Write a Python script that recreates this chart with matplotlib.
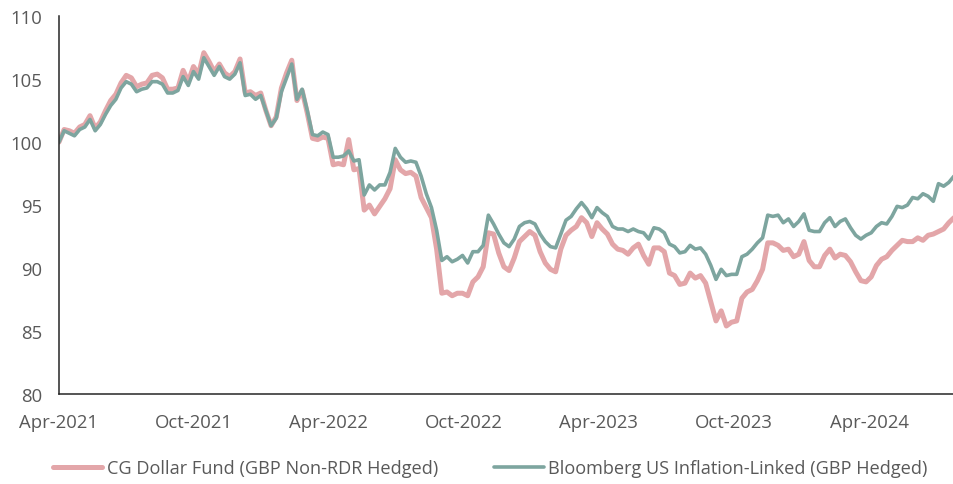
import matplotlib
matplotlib.use("Agg")
import matplotlib.pyplot as plt
import matplotlib.dates as mdates
import pandas as pd

# weekly values, rebased to 100 at 1 Apr 2021
start_date = "2021-04-01"

bench = [100.0, 100.9, 100.7, 100.5, 101.0, 101.2, 101.8, 100.9, 101.4, 102.2,
         102.9, 103.4, 104.3, 104.8, 104.6, 104.0, 104.2, 104.3, 104.8, 104.8,
         104.6, 103.9, 103.9, 104.1, 105.2, 104.5, 105.6, 105.0, 106.7, 106.0,
         105.3, 106.0, 105.2, 105.0, 105.4, 106.3, 103.7, 103.8, 103.4, 103.7,
         102.5, 101.3, 101.9, 104.0, 105.1, 106.2, 103.4, 104.2, 102.5, 100.6,
         100.5, 100.8, 100.6, 98.8, 98.8, 98.9, 99.3, 98.5, 98.6, 95.8,
         96.6, 96.2, 96.6, 96.6, 97.6, 99.5, 98.8, 98.4, 98.5, 98.4,
         97.3, 95.9, 94.8, 93.0, 90.6, 90.9, 90.5, 90.7, 91.0, 90.4,
         91.3, 91.3, 91.8, 94.2, 93.5, 92.7, 92.0, 91.7, 92.3, 93.3,
         93.6, 93.7, 93.5, 92.7, 92.1, 91.7, 91.6, 92.7, 93.8, 94.1,
         94.7, 95.2, 94.7, 94.0, 94.8, 94.4, 94.1, 93.3, 93.1, 93.1,
         92.9, 93.1, 92.9, 92.8, 92.3, 93.2, 93.1, 92.8, 91.9, 91.7,
         91.2, 91.3, 91.8, 91.5, 91.6, 91.1, 90.2, 89.1, 89.9, 89.4,
         89.5, 89.5, 90.9, 91.1, 91.5, 92.0, 92.4, 94.2, 94.1, 94.2,
         93.6, 93.9, 93.3, 93.7, 94.3, 93.0, 92.9, 92.9, 93.6, 94.0,
         93.3, 93.7, 93.9, 93.2, 92.6, 92.3, 92.6, 92.8, 93.3, 93.6,
         93.5, 94.1, 94.9, 94.8, 95.0, 95.6, 95.5, 95.9, 95.7, 95.3,
         96.7, 96.5, 96.8, 97.3]

fund = [100.0, 101.0, 100.9, 100.7, 101.2, 101.4, 102.1, 101.1, 101.6, 102.5,
        103.3, 103.8, 104.7, 105.3, 105.1, 104.4, 104.6, 104.7, 105.3, 105.4,
        105.1, 104.2, 104.2, 104.3, 105.7, 104.8, 106.0, 105.4, 107.1, 106.4,
        105.6, 106.2, 105.5, 105.2, 105.6, 106.6, 103.9, 104.0, 103.7, 103.9,
        102.5, 101.3, 102.0, 104.3, 105.5, 106.5, 103.3, 104.1, 102.3, 100.3,
        100.2, 100.4, 100.3, 98.2, 98.3, 98.2, 100.2, 97.8, 97.9, 94.6,
        95.0, 94.3, 94.9, 95.5, 96.3, 98.6, 97.8, 97.5, 97.6, 97.3,
        95.6, 94.8, 94.0, 91.5, 88.0, 88.1, 87.8, 88.0, 88.0, 87.8,
        88.9, 89.3, 90.1, 92.8, 92.7, 91.2, 90.1, 89.8, 90.8, 92.1,
        92.5, 92.9, 92.6, 91.3, 90.4, 89.9, 89.7, 91.5, 92.6, 93.0,
        93.3, 94.0, 93.6, 92.5, 93.6, 93.1, 92.7, 91.9, 91.5, 91.4,
        91.1, 91.6, 91.9, 91.0, 90.3, 91.6, 91.6, 91.3, 89.6, 89.4,
        88.7, 88.8, 89.6, 89.2, 89.4, 88.8, 87.3, 85.8, 86.6, 85.4,
        85.7, 85.8, 87.6, 88.1, 88.3, 89.0, 89.9, 92.0, 92.0, 91.8,
        91.4, 91.5, 90.9, 91.1, 92.1, 90.6, 90.1, 90.1, 91.0, 91.5,
        90.8, 91.1, 91.0, 90.5, 89.7, 89.0, 88.9, 89.3, 90.2, 90.7,
        90.9, 91.4, 91.8, 92.2, 92.1, 92.1, 92.4, 92.2, 92.6, 92.7,
        92.9, 93.1, 93.6, 94.0]

series_names = ["CG Dollar Fund (GBP Non-RDR Hedged)",
                "Bloomberg US Inflation-Linked (GBP Hedged)"]
tick_dates = ["2021-04-01", "2021-10-01", "2022-04-01", "2022-10-01",
              "2023-04-01", "2023-10-01", "2024-04-01"]

dates = pd.date_range(start_date, periods=len(fund), freq="7D")

plt.rcParams["font.family"] = ["Open Sans", "DejaVu Sans"]
txt_col = "#595959"

fig = plt.figure(figsize=(9.54, 4.85), dpi=100)
ax = fig.add_axes([0.0618, 0.1856, 0.9382, 0.779])

ax.plot(dates, fund, color="#e3a6a9", lw=3.6, solid_capstyle="round",
        label=series_names[0])
ax.plot(dates, bench, color="#7da59f", lw=2.6, solid_capstyle="round",
        label=series_names[1])

ax.set_ylim(80, 110)
ax.set_yticks(range(80, 111, 5))
ax.set_xlim(dates[0], dates[-1])
ax.set_xticks(pd.to_datetime(tick_dates))
ax.xaxis.set_major_formatter(mdates.DateFormatter("%b-%Y"))

for side in ["top", "right"]:
    ax.spines[side].set_visible(False)
for side in ["left", "bottom"]:
    ax.spines[side].set_color("#262626")
    ax.spines[side].set_linewidth(1.1)

ax.tick_params(axis="both", length=0, labelsize=13.3, colors=txt_col)
ax.tick_params(axis="y", pad=12)
ax.tick_params(axis="x", pad=14)
for lbl in ax.get_xticklabels() + ax.get_yticklabels():
    lbl.set_color(txt_col)

fig.legend(loc="center", bbox_to_anchor=(0.514, 0.033), ncol=2, frameon=False,
           fontsize=13.1, handlelength=2.7, handletextpad=0.25, columnspacing=3.1,
           labelcolor=txt_col)

fig.savefig("out.png", dpi=100)
